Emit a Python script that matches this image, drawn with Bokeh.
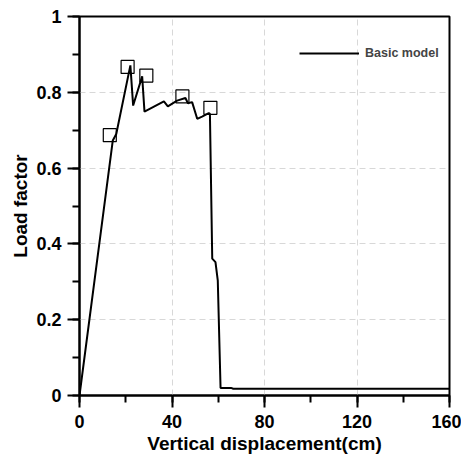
from bokeh.plotting import figure
from bokeh.models import Range1d, SingleIntervalTicker, NumeralTickFormatter, Legend, LegendItem
from bokeh.embed import file_html
from bokeh.resources import INLINE

# Curve data (vertical displacement in cm, load factor)
disp = [0, 14.4, 15.9, 22.0, 23.2, 27.1, 28.1, 36.5, 38.2, 42.2, 45.8, 46.9, 48.7,
        50.9, 53.0, 55.9, 56.4, 57.4, 58.8, 59.8, 61.0, 65.5, 66.5, 160]
load = [0, 0.673, 0.690, 0.871, 0.765, 0.842, 0.749, 0.776, 0.763, 0.778, 0.785, 0.771, 0.774,
        0.730, 0.736, 0.745, 0.743, 0.361, 0.352, 0.303, 0.020, 0.020, 0.018, 0.018]

# Square markers
mark_x = [13.1, 20.8, 28.9, 44.5, 56.6]
mark_y = [0.687, 0.867, 0.844, 0.789, 0.759]

series_name = "Basic model"
x_title = "Vertical displacement(cm)"
y_title = "Load factor"

FONT = "Liberation Sans"

p = figure(width=461, height=459, output_backend="svg", toolbar_location=None,
           x_range=Range1d(0, 160), y_range=Range1d(0, 1),
           min_border_left=79, min_border_right=12, min_border_top=16, min_border_bottom=64)
p.background_fill_color = "white"
p.border_fill_color = "white"
p.outline_line_color = "black"
p.outline_line_width = 2

line_r = p.line(disp, load, line_color="black", line_width=2)
p.scatter(mark_x, mark_y, marker="square", size=13, fill_color=None,
          line_color="black", line_width=1.2)

for ax, interval in ((p.xaxis, 40), (p.yaxis, 0.2)):
    ax.ticker = SingleIntervalTicker(interval=interval, num_minor_ticks=2)
    ax.axis_line_width = 2
    ax.major_tick_line_width = 2
    ax.minor_tick_line_width = 2
    ax.major_tick_in = 0
    ax.minor_tick_in = 0
    ax.major_tick_out = 12
    ax.minor_tick_out = 7
    ax.major_label_text_font = FONT
    ax.major_label_text_font_style = "bold"
    ax.major_label_text_font_size = "18px"
    ax.major_label_text_color = "black"
    ax.axis_label_text_font = FONT
    ax.axis_label_text_font_style = "bold"
    ax.axis_label_text_font_size = "19px"
    ax.axis_label_text_color = "black"

p.xaxis.axis_label = x_title
p.yaxis.axis_label = y_title
p.yaxis.formatter = NumeralTickFormatter(format="0.[0]")
p.xaxis.major_label_standoff = 7
p.yaxis.major_label_standoff = 6
p.xaxis.axis_label_standoff = 2
p.yaxis.axis_label_standoff = 2

for g in (p.xgrid, p.ygrid):
    g.grid_line_color = "#d8d8d8"
    g.grid_line_dash = "6 4"
    g.grid_line_width = 1

legend = Legend(items=[LegendItem(label=series_name, renderers=[line_r])],
                location=(220, 332), glyph_width=60, label_standoff=6,
                border_line_color=None, background_fill_alpha=0,
                label_text_font=FONT, label_text_font_style="bold",
                label_text_font_size="12.5px", padding=10)
p.add_layout(legend)

open("out.html", "w").write(file_html(p, INLINE))
